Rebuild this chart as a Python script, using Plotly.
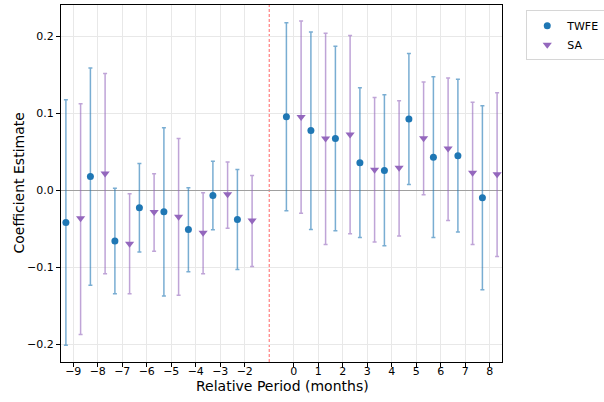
import plotly.graph_objects as go

periods = [-9, -8, -7, -6, -5, -4, -3, -2, 0, 1, 2, 3, 4, 5, 6, 7, 8]

twfe_est = [-0.0416, 0.0182, -0.0656, -0.0225, -0.0277, -0.0506, -0.0065, -0.0377,
            0.0957, 0.0779, 0.0675, 0.0359, 0.0260, 0.0930, 0.0433, 0.0450, -0.0095]
twfe_lo = [-0.201, -0.123, -0.134, -0.080, -0.137, -0.1056, -0.051, -0.1026,
           -0.0264, -0.0506, -0.0524, -0.061, -0.0719, 0.0078, -0.061, -0.054, -0.129]
twfe_hi = [0.118, 0.159, 0.003, 0.035, 0.0814, 0.0035, 0.038, 0.0273,
           0.2177, 0.206, 0.1874, 0.1333, 0.1242, 0.178, 0.1476, 0.1446, 0.110]

sa_est = [-0.036, 0.022, -0.069, -0.028, -0.034, -0.055, -0.005, -0.039,
          0.0955, 0.0675, 0.0727, 0.0268, 0.0294, 0.068, 0.0545, 0.023, 0.021]
sa_lo = [-0.187, -0.108, -0.134, -0.079, -0.136, -0.108, -0.049, -0.0987,
         -0.0294, -0.070, -0.0563, -0.067, -0.059, -0.0056, -0.039, -0.070, -0.0857]
sa_hi = [0.1126, 0.152, -0.0043, 0.0216, 0.0675, -0.003, 0.037, 0.0195,
         0.220, 0.2043, 0.2013, 0.1208, 0.1165, 0.141, 0.146, 0.1147, 0.127]

tick_vals = periods
tick_text = [str(p).replace("-", "\u2212") for p in periods]
y_tick_vals = [-0.2, -0.1, 0.0, 0.1, 0.2]
y_tick_text = [f"{v:.1f}".replace("-", "\u2212") for v in y_tick_vals]

offset = 0.3
x_twfe = [p - offset for p in periods]
x_sa = [p + offset for p in periods]

FONT = "DejaVu Sans, sans-serif"

fig = go.Figure()
fig.add_trace(go.Scatter(
    x=x_twfe, y=twfe_est, mode="markers", name="TWFE",
    marker=dict(symbol="circle", size=7, color="#1f77b4"),
    error_y=dict(type="data", symmetric=False,
                 array=[h - e for h, e in zip(twfe_hi, twfe_est)],
                 arrayminus=[e - l for e, l in zip(twfe_est, twfe_lo)],
                 color="rgba(31,119,180,0.6)", thickness=1.5, width=2),
))
fig.add_trace(go.Scatter(
    x=x_sa, y=sa_est, mode="markers", name="SA",
    marker=dict(symbol="triangle-down", size=8, color="#9467bd"),
    error_y=dict(type="data", symmetric=False,
                 array=[h - e for h, e in zip(sa_hi, sa_est)],
                 arrayminus=[e - l for e, l in zip(sa_est, sa_lo)],
                 color="rgba(148,103,189,0.6)", thickness=1.5, width=2),
))

fig.add_shape(type="line", xref="x", yref="paper", x0=-1, x1=-1, y0=0, y1=1,
              line=dict(color="rgba(255,0,0,0.5)", width=1.2, dash="3px,2px"), layer="below")

fig.add_annotation(text="Relative Period (months)", xref="paper", yref="paper",
                   x=0.503, y=-0.068, xanchor="center", yanchor="middle",
                   showarrow=False, font=dict(size=14))
fig.add_annotation(text="Coefficient Estimate", xref="paper", yref="paper",
                   x=-0.0975, y=0.5, xanchor="center", yanchor="middle",
                   textangle=-90, showarrow=False, font=dict(size=14))

fig.update_layout(
    width=604, height=402,
    margin=dict(l=61, r=102, t=5, b=40, autoexpand=False),
    paper_bgcolor="white", plot_bgcolor="white",
    font=dict(family=FONT, size=11, color="black"),
    showlegend=True,
    legend=dict(x=1.055, y=0.985, xanchor="left", yanchor="top",
                bgcolor="white", bordercolor="#d6d6d6", borderwidth=1,
                font=dict(size=11), itemwidth=30, tracegroupgap=0),
    xaxis=dict(range=[-9.5, 8.5], tickmode="array", tickvals=tick_vals, ticktext=tick_text,
               showline=True, linecolor="black", linewidth=1, mirror=True,
               ticks="outside", ticklen=4, tickcolor="black", automargin=False,
               ticklabelstandoff=-5,
               showgrid=True, gridcolor="#e8e8e8", gridwidth=1, zeroline=False),
    yaxis=dict(range=[-0.2227, 0.2409], tickmode="array",
               tickvals=y_tick_vals, ticktext=y_tick_text,
               showline=True, linecolor="black", linewidth=1, mirror=True,
               ticks="outside", ticklen=4, tickcolor="black", automargin=False,
               showgrid=True, gridcolor="#e8e8e8", gridwidth=1,
               zeroline=True, zerolinecolor="#a0a0a0", zerolinewidth=1),
)

fig.write_html("out.html", config={"displayModeBar": False},
               post_script="document.body.style.margin='0';")
